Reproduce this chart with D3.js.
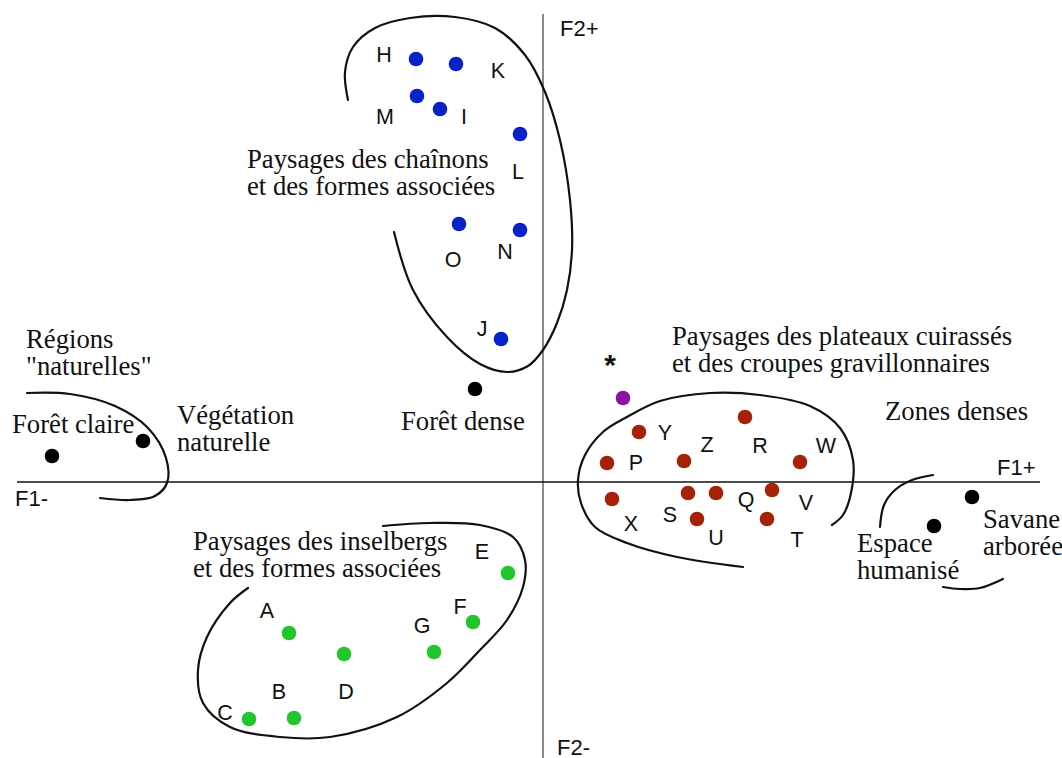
<!DOCTYPE html>
<html><head><meta charset="utf-8">
<script src="https://cdn.jsdelivr.net/npm/d3@7"></script>
<style>html,body{margin:0;padding:0;background:#fff}svg{display:block}</style>
</head><body>
<svg id="chart" width="1062" height="758"></svg>
<script>
// ---- DATA (factor coordinates F1, F2) ----
const bluePoints = [
  {id:"H",f1:-1.27,f2:4.23},{id:"K",f1:-0.87,f2:4.18},{id:"M",f1:-1.26,f2:3.86},
  {id:"I",f1:-1.03,f2:3.73},{id:"L",f1:-0.23,f2:3.48},{id:"O",f1:-0.84,f2:2.58},
  {id:"N",f1:-0.23,f2:2.52},{id:"J",f1:-0.42,f2:1.43}
];
const blueLabels = [
  {t:"H",f1:-1.59,f2:4.27},{t:"K",f1:-0.45,f2:4.11},{t:"M",f1:-1.58,f2:3.65},
  {t:"I",f1:-0.79,f2:3.65},{t:"L",f1:-0.25,f2:3.10},{t:"O",f1:-0.90,f2:2.22},
  {t:"N",f1:-0.38,f2:2.30},{t:"J",f1:-0.61,f2:1.53}
];
const redPoints = [
  {id:"Y",f1:0.96,f2:0.50},{id:"P",f1:0.64,f2:0.19},{id:"Z",f1:1.41,f2:0.21},
  {id:"R",f1:2.02,f2:0.65},{id:"W",f1:2.57,f2:0.20},{id:"X",f1:0.69,f2:-0.17},
  {id:"S",f1:1.45,f2:-0.11},{id:"Q",f1:1.73,f2:-0.11},{id:"V",f1:2.29,f2:-0.08},
  {id:"U",f1:1.54,f2:-0.37},{id:"T",f1:2.24,f2:-0.37}
];
const redLabels = [
  {t:"Y",f1:1.22,f2:0.49},{t:"P",f1:0.93,f2:0.19},{t:"Z",f1:1.64,f2:0.37},
  {t:"R",f1:2.17,f2:0.36},{t:"W",f1:2.83,f2:0.36},{t:"X",f1:0.88,f2:-0.42},
  {t:"S",f1:1.27,f2:-0.33},{t:"Q",f1:2.03,f2:-0.18},{t:"V",f1:2.63,f2:-0.21},
  {t:"U",f1:1.73,f2:-0.56},{t:"T",f1:2.54,f2:-0.58}
];
const greenPoints = [
  {id:"E",f1:-0.35,f2:-0.91},{id:"F",f1:-0.70,f2:-1.40},{id:"G",f1:-1.09,f2:-1.70},
  {id:"A",f1:-2.54,f2:-1.51},{id:"D",f1:-1.99,f2:-1.72},{id:"B",f1:-2.49,f2:-2.36},
  {id:"C",f1:-2.94,f2:-2.37}
];
const greenLabels = [
  {t:"E",f1:-0.61,f2:-0.70},{t:"F",f1:-0.83,f2:-1.25},{t:"G",f1:-1.21,f2:-1.44},
  {t:"A",f1:-2.76,f2:-1.29},{t:"D",f1:-1.97,f2:-2.10},{t:"B",f1:-2.64,f2:-2.10},
  {t:"C",f1:-3.18,f2:-2.31}
];
const blackPoints = [
  {id:"Forêt dense",f1:-0.68,f2:0.93},{id:"Forêt claire",f1:-4.91,f2:0.26},
  {id:"Végétation naturelle",f1:-4.00,f2:0.41},{id:"Espace humanisé",f1:3.91,f2:-0.44},
  {id:"Savane arborée",f1:4.29,f2:-0.15}
];
const purplePoints = [{id:"*",f1:0.80,f2:0.84}];
const starLabels = [{t:"*",f1:0.67,f2:1.18}];

const textBlocks = [
  {lines:["Paysages des chaînons","et des formes associées"],f1:-2.96,f2:3.14},
  {lines:["Régions","\"naturelles\""],f1:-5.17,f2:1.34},
  {lines:["Forêt claire"],f1:-5.31,f2:0.49},
  {lines:["Végétation","naturelle"],f1:-3.66,f2:0.58},
  {lines:["Forêt dense"],f1:-1.42,f2:0.52},
  {lines:["Paysages des plateaux cuirassés","et des croupes gravillonnaires"],f1:1.29,f2:1.37},
  {lines:["Zones denses"],f1:3.42,f2:0.62},
  {lines:["Espace","humanisé"],f1:3.14,f2:-0.70},
  {lines:["Savane","arborée"],f1:4.40,f2:-0.46},
  {lines:["Paysages des inselbergs","et des formes associées"],f1:-3.50,f2:-0.68}
];
const axisLabels = [
  {t:"F2+",f1:0.17,f2:4.46},{t:"F2-",f1:0.14,f2:-2.73},
  {t:"F1-",f1:-5.28,f2:-0.24},{t:"F1+",f1:4.54,f2:0.07}
];
const axisF1Extent = [-5.26, 4.97];
const axisF2Extent = [-2.76, 4.68];

const blueHull = [[-1.95,3.82],[-1.98,4.10],[-1.90,4.35],[-1.68,4.54],[-1.33,4.64],[-0.88,4.65],[-0.48,4.54],[-0.18,4.27],[0.02,3.90],[0.17,3.42],[0.27,2.82],[0.29,2.32],[0.24,1.92],[0.14,1.59],[0.00,1.32],[-0.15,1.16],[-0.36,1.10],[-0.63,1.18],[-0.96,1.45],[-1.30,1.92],[-1.49,2.50]];
const naturalHull = [[-5.16,0.89],[-4.73,0.88],[-4.28,0.76],[-3.95,0.54],[-3.77,0.24],[-3.76,-0.01],[-3.88,-0.14],[-4.13,-0.18],[-4.43,-0.16]];
const redHull = [[2.00,-0.85],[1.34,-0.75],[0.84,-0.61],[0.52,-0.45],[0.38,-0.21],[0.35,0.02],[0.42,0.27],[0.60,0.50],[0.84,0.65],[1.17,0.81],[1.67,0.89],[2.17,0.87],[2.67,0.76],[2.97,0.54],[3.10,0.22],[3.08,-0.11],[3.00,-0.33],[2.89,-0.43]];
const espaceArc = [[3.37,-0.45],[3.41,-0.23],[3.52,-0.08],[3.69,0.02],[3.90,0.07]];
const savaneArc = [[4.00,-1.05],[4.17,-1.07],[4.37,-1.06],[4.60,-0.97]];
const greenHull = [[-2.95,-1.06],[-3.13,-1.21],[-3.36,-1.55],[-3.45,-1.88],[-3.40,-2.21],[-3.13,-2.45],[-2.63,-2.55],[-2.13,-2.55],[-1.46,-2.35],[-0.96,-2.01],[-0.63,-1.68],[-0.36,-1.38],[-0.20,-1.05],[-0.18,-0.78],[-0.30,-0.55],[-0.63,-0.43],[-1.13,-0.41],[-1.60,-0.44]];

// ---- DRAWING ----
const W = 1062, H = 758;
const svg = d3.select("#chart");
const x = d3.scaleLinear().domain([-5.43, 5.19]).range([0, W]);
const y = d3.scaleLinear().domain([4.82, -2.76]).range([0, H]);

// axes
svg.append("line").attr("x1", x(0)).attr("x2", x(0))
  .attr("y1", y(axisF2Extent[1])).attr("y2", y(axisF2Extent[0]))
  .attr("stroke", "#8a8a8a").attr("stroke-width", 2);
svg.append("line").attr("x1", x(axisF1Extent[0])).attr("x2", x(axisF1Extent[1]))
  .attr("y1", y(0)).attr("y2", y(0))
  .attr("stroke", "#111").attr("stroke-width", 1.6);

// hull curves
const line = d3.line().x(d => x(d[0])).y(d => y(d[1])).curve(d3.curveCatmullRom.alpha(0.5));
[blueHull, naturalHull, redHull, espaceArc, savaneArc, greenHull].forEach(c => {
  svg.append("path").attr("d", line(c)).attr("fill", "none")
    .attr("stroke", "#111").attr("stroke-width", 2.2).attr("stroke-linecap", "round");
});

// points
function dots(data, color) {
  svg.append("g").selectAll("circle").data(data).join("circle")
    .attr("cx", d => x(d.f1)).attr("cy", d => y(d.f2)).attr("r", 7.3).attr("fill", color);
}
dots(bluePoints, "#0722c9");
dots(redPoints, "#a52208");
dots(greenPoints, "#1fc62c");
dots(blackPoints, "#000");
dots(purplePoints, "#8c12a6");

// letter labels
function letters(data, size, weight) {
  svg.append("g").selectAll("text").data(data).join("text")
    .attr("x", d => x(d.f1)).attr("y", d => y(d.f2))
    .attr("text-anchor", "middle").attr("dominant-baseline", "central")
    .attr("font-family", "'Liberation Sans', Arial, sans-serif")
    .attr("font-weight", weight || "normal")
    .attr("font-size", size).attr("fill", "#111").text(d => d.t);
}
letters(blueLabels, 21.5);
letters(redLabels, 21.5);
letters(greenLabels, 21.5);
letters(starLabels, 30, "bold");

// axis labels
svg.append("g").selectAll("text").data(axisLabels).join("text")
  .attr("x", d => x(d.f1)).attr("y", d => y(d.f2))
  .attr("font-family", "'Liberation Sans', Arial, sans-serif")
  .attr("font-size", 22).attr("fill", "#111").text(d => d.t);

// text blocks
const tb = svg.append("g").selectAll("text").data(textBlocks).join("text")
  .attr("font-family", "'Liberation Serif', 'Times New Roman', serif")
  .attr("font-size", 26.7).attr("fill", "#111");
tb.each(function(d) {
  const t = d3.select(this);
  d.lines.forEach((ln, i) => {
    t.append("tspan").attr("x", x(d.f1)).attr("y", y(d.f2) + i * 26.5).text(ln);
  });
});
</script>
</body></html>
